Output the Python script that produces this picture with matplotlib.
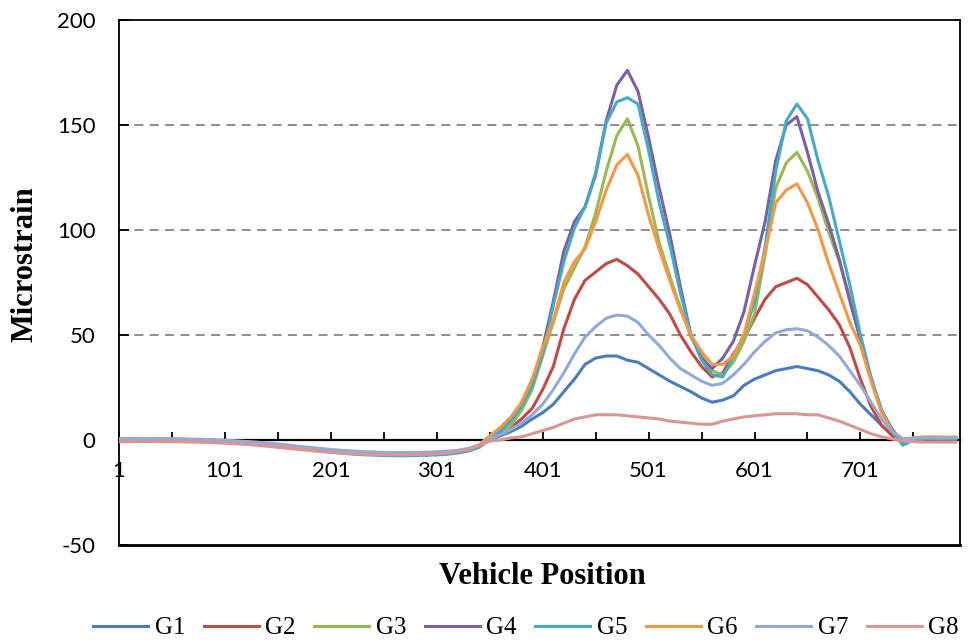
import matplotlib
matplotlib.use("Agg")
import matplotlib.pyplot as plt

# vehicle position samples (every 10 positions)
position = list(range(1, 801, 10))

g1 = [0.4, 0.4, 0.5, 0.5, 0.4, 0.3, 0.3, 0.1, 0.0, -0.2, -0.4, -0.7, -1.0, -1.4, -1.9, -2.5, -3.1, -3.7,
      -4.3, -4.9, -5.4, -5.8, -6.1, -6.4, -6.6, -6.8, -6.9, -6.9, -6.8, -6.7, -6.5, -6.2, -5.7, -4.8, -3.2,
      0.0, 2.0, 4.0, 6.5, 10, 13, 17, 23, 29, 36, 39, 40, 40, 38, 37, 34, 31, 28, 25.5, 23, 20, 18, 19,
      21, 26, 29, 31, 33, 34, 35, 34, 33, 31, 28, 23, 17, 12, 7, 2.5, 0.0, 0.5, 0.5, 0.6, 0.5, 0.5]
g2 = [0.3, 0.3, 0.4, 0.4, 0.3, 0.3, 0.2, 0.1, 0.0, -0.2, -0.5, -0.8, -1.1, -1.5, -2.0, -2.6, -3.2, -3.8,
      -4.4, -5.0, -5.5, -5.9, -6.2, -6.5, -6.7, -6.9, -7.0, -7.0, -6.9, -6.8, -6.6, -6.3, -5.8, -4.8, -3.0,
      1.0, 3.0, 6.0, 10, 15, 24, 35, 53, 67, 76, 80, 84, 86, 83, 79, 73, 67, 60, 50, 42, 35, 30, 32,
      41, 48, 58, 67, 73, 75, 77, 74, 68, 62, 55, 44, 29, 16, 7, 2.0, -1.0, 0.5, 0.6, 0.6, 0.5, 0.5]
g3 = [0.3, 0.3, 0.3, 0.4, 0.3, 0.2, 0.2, 0.0, -0.1, -0.3, -0.5, -0.8, -1.1, -1.5, -2.0, -2.6, -3.2, -3.8,
      -4.4, -5.0, -5.6, -6.0, -6.4, -6.7, -6.9, -7.1, -7.2, -7.2, -7.1, -7.0, -6.8, -6.5, -6.0, -5.2, -3.6,
      0.5, 3.0, 7.0, 14, 24, 40, 56, 72, 82, 92, 108, 128, 145, 153, 140, 116, 94, 78, 63, 49, 40, 33, 31,
      37, 47, 60, 88, 120, 132, 137, 128, 115, 99, 85, 68, 47, 29, 14, 4.0, 0.0, 1.0, 1.0, 1.0, 0.9, 0.9]
g4 = [0.3, 0.3, 0.4, 0.4, 0.3, 0.3, 0.2, 0.1, 0.0, -0.2, -0.4, -0.7, -1.0, -1.4, -1.9, -2.5, -3.1, -3.7,
      -4.3, -4.9, -5.4, -5.8, -6.1, -6.4, -6.6, -6.8, -6.9, -6.9, -6.8, -6.7, -6.5, -6.2, -5.7, -4.6, -2.6,
      1.5, 5.0, 10, 17, 27, 44, 66, 90, 104, 111, 127, 152, 169, 176, 166, 144, 120, 98, 73, 50, 39, 34, 39,
      47, 61, 83, 104, 133, 150, 154, 137, 118, 103, 86, 66, 48, 29, 14, 5.0, -1.0, 0.5, 1.0, 1.0, 1.0, 1.0]
g5 = [0.2, 0.2, 0.3, 0.3, 0.2, 0.1, 0.0, -0.1, -0.2, -0.4, -0.6, -0.9, -1.3, -1.7, -2.2, -2.8, -3.4, -4.0,
      -4.6, -5.2, -5.8, -6.3, -6.7, -7.0, -7.2, -7.4, -7.5, -7.5, -7.4, -7.3, -7.1, -6.8, -6.2, -5.2, -3.2,
      1.0, 4.0, 9.0, 16, 26, 41, 64, 85, 101, 111, 126, 151, 161, 163, 160, 138, 113, 93, 70, 50, 38, 31, 30,
      40, 50, 66, 92, 128, 152, 160, 153, 133, 116, 95, 74, 50, 30, 14, 4.0, -2.5, 0.0, 0.5, 0.5, 0.5, 0.5]
g6 = [0.4, 0.4, 0.5, 0.5, 0.4, 0.4, 0.3, 0.2, 0.1, -0.1, -0.3, -0.6, -0.9, -1.3, -1.8, -2.4, -3.0, -3.6,
      -4.2, -4.8, -5.3, -5.7, -6.0, -6.3, -6.5, -6.7, -6.8, -6.8, -6.7, -6.6, -6.4, -6.0, -5.4, -4.2, -2.2,
      2.0, 6.0, 11, 18, 29, 44, 57, 75, 85, 91, 104, 119, 131, 136, 126, 107, 91, 76, 62, 50, 42, 36, 36,
      40, 50, 70, 90, 113, 119, 122, 113, 100, 84, 70, 56, 45, 28, 13, 4.0, 0.5, 1.0, 1.5, 1.5, 1.4, 1.4]
g7 = [0.6, 0.6, 0.7, 0.7, 0.6, 0.6, 0.5, 0.4, 0.3, 0.1, -0.1, -0.4, -0.7, -1.0, -1.4, -1.9, -2.4, -3.0,
      -3.5, -4.0, -4.5, -4.9, -5.2, -5.5, -5.7, -5.9, -6.0, -6.0, -5.9, -5.8, -5.6, -5.3, -4.9, -4.0, -2.6,
      0.5, 2.5, 5.0, 8.0, 12, 17, 24, 32, 41, 49, 54, 58, 59.5, 59, 56, 50, 45, 39, 34, 31, 28, 26, 27,
      31, 36, 42, 47, 51, 52.5, 53, 52, 49, 45, 40, 33, 26, 18, 10, 4.0, 0.5, 0.8, 1.0, 1.0, 1.0, 1.0]
g8 = [-0.8, -0.8, -0.7, -0.7, -0.8, -0.8, -0.9, -1.0, -1.1, -1.3, -1.5, -1.8, -2.1, -2.5, -3.0, -3.5, -4.0, -4.5,
      -5.0, -5.5, -5.9, -6.2, -6.5, -6.7, -6.9, -7.0, -7.0, -7.0, -6.9, -6.7, -6.5, -6.1, -5.5, -4.6, -2.6,
      -0.5, 0.0, 1.0, 1.5, 3.0, 4.5, 6.0, 8.0, 10, 11, 12, 12, 12, 11.5, 11, 10.5, 10, 9.0, 8.5, 8.0, 7.5, 7.5, 9.0,
      10, 11, 11.5, 12, 12.5, 12.5, 12.5, 12, 12, 10.5, 9.0, 7.0, 5.0, 3.0, 1.5, 0.5, -0.5, -0.8, -1.0, -1.0, -1.0, -1.0]

series = {"G1": g1, "G2": g2, "G3": g3, "G4": g4, "G5": g5, "G6": g6, "G7": g7, "G8": g8}
colors = ["#4A7EBB", "#BE4B48", "#98B954", "#7D60A0", "#46AAC5", "#F79646", "#93AAD5", "#D99694"]

x_labels = [1, 101, 201, 301, 401, 501, 601, 701]
x_minor = [51, 151, 251, 351, 451, 551, 651, 751]
y_ticks = [-50, 0, 50, 100, 150, 200]
grid_levels = [50, 100, 150]

tick_font = "Lato"
title_font = "Liberation Serif"

fig = plt.figure(figsize=(9.69, 6.42), dpi=100)
ax = fig.add_axes([119 / 969, 1 - 545 / 642, 841 / 969, 525 / 642])

for (name, vals), c in zip(series.items(), colors):
    ax.plot(position, vals, color=c, lw=2.2, label=name, zorder=3)

for lvl in grid_levels:
    ax.axhline(lvl, color="#868686", lw=1.3, ls=(0, (5, 3.5)), zorder=1)

ax.set_xlim(1, 795)
ax.set_ylim(-50, 200)

# x axis runs along zero, frame closed at the bottom
ax.spines["bottom"].set_position(("data", 0))
ax.spines["bottom"].set_linewidth(1.6)
ax.spines["bottom"].set_zorder(2)
for s in ["left", "top", "right"]:
    ax.spines[s].set_linewidth(1.3)
ax.axhline(-50, color="black", lw=2.0, clip_on=False, zorder=2)

ax.set_xticks(x_labels)
ax.set_xticklabels([str(v) for v in x_labels], fontfamily=tick_font, fontsize=16)
ax.set_xticks(x_minor, minor=True)
ax.tick_params(axis="x", which="both", direction="in", length=6, width=1.3, pad=15)

ax.set_yticks(y_ticks)
ax.set_yticklabels([str(v) for v in y_ticks], fontfamily=tick_font, fontsize=16)
ax.tick_params(axis="y", direction="in", length=7, width=1.3, pad=17)

fig.text(25 / 969, 1 - 264 / 642, "Microstrain", rotation=90, ha="center", va="center",
         fontfamily=title_font, fontweight="bold", fontsize=22)
fig.text(542 / 969, 1 - 576 / 642, "Vehicle Position", ha="center", va="center",
         fontfamily=title_font, fontweight="bold", fontsize=22)

fig.legend(loc="center", bbox_to_anchor=(526 / 969, 1 - 628 / 642), ncol=8, frameon=False,
           prop={"family": title_font, "size": 18}, handlelength=2.2, handletextpad=0.25,
           columnspacing=0.75)

fig.savefig("out.png", dpi=100)
